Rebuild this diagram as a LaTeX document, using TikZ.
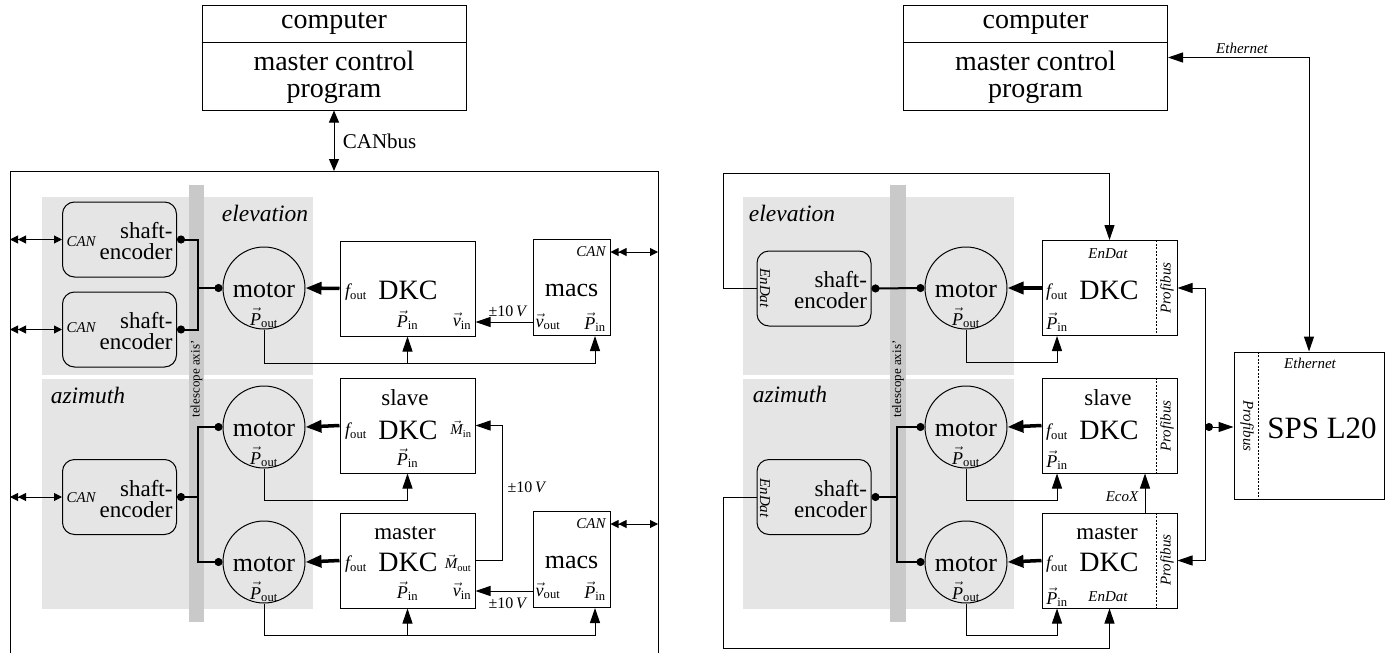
\documentclass[tikz,border=0pt]{standalone}
\usepackage{fix-cm}
\usepackage{fontspec}
\setmainfont{Liberation Serif}
\usetikzlibrary{arrows.meta,calc}

\begin{document}
\begin{tikzpicture}[
		x=1pt, y=-1pt,
		line width=1pt,
		area/.style={fill=gray!20},
		axisbar/.style={fill=gray!42},
		pc/.style={draw, minimum width=264, minimum height=105},
		unit/.style={draw, minimum width=135, minimum height=95},
		macsbox/.style={draw, minimum width=77, minimum height=96},
		motor/.style={circle, draw, minimum size=82, inner sep=0},
		encoder/.style={draw, rounded corners=12, minimum width=114, minimum height=75},
		enctext/.style={anchor=east, align=right, inner sep=1, font=\fontsize{23}{21}\selectfont},
		big/.style={inner sep=1, font=\fontsize{28}{27}\selectfont},
		mtext/.style={inner sep=1, font=\fontsize{26}{28}\selectfont},
		mid/.style={inner sep=1, font=\fontsize{23}{25}\selectfont},
		side/.style={font=\itshape\fontsize{23.5}{25}\selectfont},
		tag/.style={font=\itshape\fontsize{15}{17}\selectfont, inner sep=1},
		sym/.style={font=\fontsize{18}{20}\selectfont, inner sep=1},
		msym/.style={font=\fontsize{15}{17}\selectfont, inner sep=1},
		volt/.style={font=\fontsize{16}{18}\selectfont, inner sep=1},
		sig/.style={-{Triangle[length=15,width=10]}},
		twoway/.style={{Triangle[length=15,width=10]}-{Triangle[length=15,width=10]}},
		drive/.style={line width=3.5pt, -{Triangle[length=16,width=12]}},
		shaft/.style={line width=2pt},
		bus/.style={{Triangle[length=8,width=8] Triangle[length=8,width=8]}-{Triangle[length=8,width=8]}},
		part/.style={dashed, line width=0.8pt, dash pattern=on 2pt off 1.5pt}
	]
	\useasboundingbox (0,0) rectangle (1390,653);

	\fill[area] (42,197) rectangle (313,375);
	\fill[area] (42,379) rectangle (313,609);
	\fill[area] (743,197) rectangle (1014,375);
	\fill[area] (743,379) rectangle (1014,609);
	\fill[axisbar] (189,185) rectangle (204,622);
	\fill[axisbar] (890,185) rectangle (906,622);
	\node[rotate=90, font=\fontsize{13}{15}\selectfont] (axisL) at (196.5,379) {telescope axis'};
	\node[rotate=90, font=\fontsize{13}{15}\selectfont] (axisR) at (898,379) {telescope axis'};
	\node[side] (elevL) at (265,213) {elevation};
	\node[side] (azimL) at (88,395) {azimuth};
	\node[side] (elevR) at (792,213) {elevation};
	\node[side] (azimR) at (790,394) {azimuth};

	\coordinate (frameNW) at (10,171);
	\coordinate (frameNE) at (658,171);
	\draw (10,653) -- (frameNW) -- (frameNE) -- (658,653);

	\node[pc] (pcL) at (334,57.5) {};
	\draw ($(pcL.north west)+(0,38)$) -- ($(pcL.north east)+(0,38)$);
	\node[big] (pcLa) at (334,24) {computer};
	\node[big, align=center] (pcLb) at (334,77) {master control\\program};
	\draw[{Triangle[length=12,width=10]}-{Triangle[length=12,width=10]}] (pcL.south) -- (pcL.south |- frameNW);
	\node[font=\fontsize{21}{23}\selectfont, anchor=west] (canbus) at (339,141) {CANbus};

	\node[encoder] (encE1) at (119.5,239.5) {};
	\node[encoder] (encE2) at (119.5,329.5) {};
	\node[encoder] (encA) at (119.5,497) {};
	\node[enctext] (encE1t) at ($(encE1.east)+(-3,2)$) {shaft-\\encoder};
	\node[enctext] (encE2t) at ($(encE2.east)+(-3,2)$) {shaft-\\encoder};
	\node[enctext] (encAt) at ($(encA.east)+(-3,2)$) {shaft-\\encoder};
	\node[tag, anchor=west] (canE1) at (65,242) {CAN};
	\node[tag, anchor=west] (canE2) at (65,328) {CAN};
	\node[tag, anchor=west] (canA) at (65,498) {CAN};
	\draw[bus] (encE1.west -| frameNW) -- (encE1.west);
	\draw[bus] (encE2.west -| frameNW) -- (encE2.west);
	\draw[bus] (encA.west -| frameNW) -- (encA.west);

	\node[motor] (mE) at (264,288) {};
	\node[motor] (mAs) at (264,427) {};
	\node[motor] (mAm) at (264,562) {};
	\node[mtext] (mEt) at (264,290) {motor};
	\node[mtext] (mAst) at (264,429) {motor};
	\node[mtext] (mAmt) at (264,564) {motor};
	\node[sym] (poE) at (264,318) {$\vec{\mathit{P}}_{\mathrm{out}}$};
	\node[sym] (poAs) at (264,457) {$\vec{\mathit{P}}_{\mathrm{out}}$};
	\node[sym] (poAm) at (264,592) {$\vec{\mathit{P}}_{\mathrm{out}}$};

	\coordinate (jE) at (198,288);
	\coordinate (jA) at (198,497);
	\draw[shaft, {Circle[length=8]}-{Circle[length=8]}] (encE1.east) -| (jE) -- (mE.west);
	\draw[shaft, {Circle[length=8]}-] (encE2.east) -| (jE);
	\draw[shaft, {Circle[length=8]}-] (encA.east) -- (jA);
	\draw[shaft, -{Circle[length=8]}] (jA) |- (mAs.west);
	\draw[shaft, -{Circle[length=8]}] (jA) |- (mAm.west);

	\node[unit] (dkcE) at (407.5,288.5) {};
	\node[unit] (dkcS) at (407.5,425.5) {};
	\node[unit] (dkcM) at (407.5,560.5) {};
	\node[big] (dkcEt) at (408,290) {DKC};
	\node[big] (dkcSt) at (408,430) {DKC};
	\node[big] (dkcMt) at (408,562) {DKC};
	\node[mid] (slaveL) at (405,398) {slave};
	\node[mid] (masterL) at (405,533) {master};
	\node[sym] (foE) at (356,292) {$\mathit{f}_{\mathrm{out}}$};
	\node[sym] (piE) at (407.5,320) {$\vec{\mathit{P}}_{\mathrm{in}}$};
	\node[sym] (viE) at (462,321) {$\vec{\mathit{v}}_{\mathrm{in}}$};
	\node[sym] (foS) at (356,431) {$\mathit{f}_{\mathrm{out}}$};
	\node[msym] (miS) at (461,429) {$\vec{\mathit{M}}_{\mathrm{in}}$};
	\node[sym] (piS) at (407.5,458) {$\vec{\mathit{P}}_{\mathrm{in}}$};
	\node[sym] (foM) at (356,564) {$\mathit{f}_{\mathrm{out}}$};
	\node[msym] (moM) at (458,563) {$\vec{\mathit{M}}_{\mathrm{out}}$};
	\node[sym] (piM) at (407.5,591) {$\vec{\mathit{P}}_{\mathrm{in}}$};
	\node[sym] (viM) at (462,591) {$\vec{\mathit{v}}_{\mathrm{in}}$};
	\draw[drive] (dkcE.west) -- (mE.east);
	\draw[drive] (dkcS.west) -- (mAs.east);
	\draw[drive] (dkcM.west) -- (mAm.east);

	\node[macsbox] (macsE) at (571.5,287.5) {};
	\node[macsbox] (macsA) at (571.5,559.5) {};
	\node[mtext] (macsEt) at (571.5,290) {macs};
	\node[mtext] (macsAt) at (571.5,562) {macs};
	\node[tag, anchor=east] (canmE) at (607,252) {CAN};
	\node[tag, anchor=east] (canmA) at (607,524) {CAN};
	\node[sym] (voE) at (548,322) {$\vec{\mathit{v}}_{\mathrm{out}}$};
	\node[sym] (pimE) at (595,322) {$\vec{\mathit{P}}_{\mathrm{in}}$};
	\node[sym] (voA) at (548,591) {$\vec{\mathit{v}}_{\mathrm{out}}$};
	\node[sym] (pimA) at (595,591) {$\vec{\mathit{P}}_{\mathrm{in}}$};
	\draw[bus] (canmE -| macsE.east) -- (canmE -| frameNE);
	\draw[bus] (canmA -| macsA.east) -- (canmA -| frameNE);

	\draw[sig] (voE -| macsE.west) -- (voE -| dkcE.east);
	\node[volt] (vltE) at (508,311) {±10\,\textit{V}};
	\draw[sig] (voA -| macsA.west) -- (voA -| dkcM.east);
	\node[volt] (vltM) at (508,603) {±10\,\textit{V}};
	\draw[sig] (dkcM.east) -- ++(27,0) |- (dkcS.east);
	\node[volt] (vltS) at (527,487) {±10\,\textit{V}};

	\draw[sig] (mE.south) |- ($(dkcE.south)+(0,27)$) -- (dkcE.south);
	\draw[sig] ($(dkcE.south)+(0,27)$) -| (pimE |- macsE.south);
	\draw[sig] (mAs.south) |- ($(dkcS.south)+(0,27)$) -- (dkcS.south);
	\draw[sig] (mAm.south) |- ($(dkcM.south)+(0,27)$) -- (dkcM.south);
	\draw[sig] ($(dkcM.south)+(0,27)$) -| (pimA |- macsA.south);

	\node[pc] (pcR) at (1035.5,57.5) {};
	\draw ($(pcR.north west)+(0,38)$) -- ($(pcR.north east)+(0,38)$);
	\node[big] (pcRa) at (1035.5,24) {computer};
	\node[big, align=center] (pcRb) at (1035.5,77) {master control\\program};

	\node[encoder] (encRE) at (814,288.5) {};
	\node[encoder] (encRA) at (814,497) {};
	\node[enctext] (encREt) at ($(encRE.east)+(-3,2)$) {shaft-\\encoder};
	\node[enctext] (encRAt) at ($(encRA.east)+(-3,2)$) {shaft-\\encoder};
	\node[tag, rotate=-90] (edRE) at (765,288) {EnDat};
	\node[tag, rotate=-90] (edRA) at (765,498) {EnDat};

	\node[motor] (mRE) at (966,288) {};
	\node[motor] (mRAs) at (966,427) {};
	\node[motor] (mRAm) at (966,562) {};
	\node[mtext] (mREt) at (966,290) {motor};
	\node[mtext] (mRAst) at (966,429) {motor};
	\node[mtext] (mRAmt) at (966,564) {motor};
	\node[sym] (poRE) at (966,318) {$\vec{\mathit{P}}_{\mathrm{out}}$};
	\node[sym] (poRAs) at (966,457) {$\vec{\mathit{P}}_{\mathrm{out}}$};
	\node[sym] (poRAm) at (966,592) {$\vec{\mathit{P}}_{\mathrm{out}}$};

	\coordinate (jRA) at (897,497);
	\draw[shaft, {Circle[length=8]}-{Circle[length=8]}] (encRE.east) -- (mRE.west);
	\draw[shaft, {Circle[length=8]}-] (encRA.east) -- (jRA);
	\draw[shaft, -{Circle[length=8]}] (jRA) |- (mRAs.west);
	\draw[shaft, -{Circle[length=8]}] (jRA) |- (mRAm.west);

	\node[unit] (dkcRE) at (1109.5,288) {};
	\node[unit] (dkcRS) at (1109.5,425.5) {};
	\node[unit] (dkcRM) at (1109.5,560.5) {};
	\node[big] (dkcREt) at (1109,290) {DKC};
	\node[big] (dkcRSt) at (1109,430) {DKC};
	\node[big] (dkcRMt) at (1109,562) {DKC};
	\draw[part] ($(dkcRE.north east)+(-21,0)$) -- ($(dkcRE.south east)+(-21,0)$);
	\draw[part] ($(dkcRS.north east)+(-21,0)$) -- ($(dkcRS.south east)+(-21,0)$);
	\draw[part] ($(dkcRM.north east)+(-21,0)$) -- ($(dkcRM.south east)+(-21,0)$);
	\node[tag] (edE) at (1108,254) {EnDat};
	\node[mid] (slaveR) at (1108,398) {slave};
	\node[mid] (masterR) at (1107,533) {master};
	\node[tag] (edM) at (1108,597) {EnDat};
	\node[sym] (foRE) at (1057,292) {$\mathit{f}_{\mathrm{out}}$};
	\node[sym] (piRE) at (1057,322) {$\vec{\mathit{P}}_{\mathrm{in}}$};
	\node[sym] (foRS) at (1057,432) {$\mathit{f}_{\mathrm{out}}$};
	\node[sym] (piRS) at (1057,460) {$\vec{\mathit{P}}_{\mathrm{in}}$};
	\node[sym] (foRM) at (1057,564) {$\mathit{f}_{\mathrm{out}}$};
	\node[sym] (piRM) at (1057,597) {$\vec{\mathit{P}}_{\mathrm{in}}$};
	\node[tag, rotate=90] (pbE) at (1167,288) {Profibus};
	\node[tag, rotate=90] (pbS) at (1167,426) {Profibus};
	\node[tag, rotate=90] (pbM) at (1167,560) {Profibus};
	\draw[drive] (dkcRE.west) -- (mRE.east);
	\draw[drive] (dkcRS.west) -- (mRAs.east);
	\draw[drive] (dkcRM.west) -- (mRAm.east);

	\draw[sig] (mRE.south) |- ($(piRE |- dkcRE.south)+(0,26)$) -- (piRE |- dkcRE.south);
	\draw[sig] (mRAs.south) |- ($(piRS |- dkcRS.south)+(0,27)$) -- (piRS |- dkcRS.south);
	\draw[sig] (mRAm.south) |- ($(piRM |- dkcRM.south)+(0,27)$) -- (piRM |- dkcRM.south);
	\draw[sig] ($(dkcRM.north)+(35.5,0)$) -- ($(dkcRS.south)+(35.5,0)$);
	\node[tag] (ecox) at (1122,497) {EcoX};

	\coordinate (fbE) at (723,173);
	\coordinate (fbA) at (723,648);
	\draw[sig] (encRE.west) -| (fbE) -| (dkcRE.north);
	\draw[sig] (encRA.west) -| (fbA) -| (dkcRM.south);

	\node[draw, minimum width=150, minimum height=147] (sps) at (1309,425.5) {};
	\draw[part] ($(sps.north west)+(25,0)$) -- ($(sps.south west)+(25,0)$);
	\node[font=\fontsize{31}{33}\selectfont] (spsname) at (1322,428) {SPS L20};
	\node[tag, rotate=-90] (pbSPS) at (1247,426) {Profibus};
	\node[tag] (ethSPS) at (1310,363) {Ethernet};

	\coordinate (busR) at (1205,427);
	\draw[twoway] (dkcRE.east) -| (busR) |- (dkcRM.east);
	\draw[{Circle[length=8]}-{Triangle[length=15,width=10]}] (busR) -- (busR -| sps.west);
	\draw[twoway] (pcR.east) -| (sps.north);
	\node[tag] (ethtop) at (1242,48) {Ethernet};
\end{tikzpicture}
\end{document}
